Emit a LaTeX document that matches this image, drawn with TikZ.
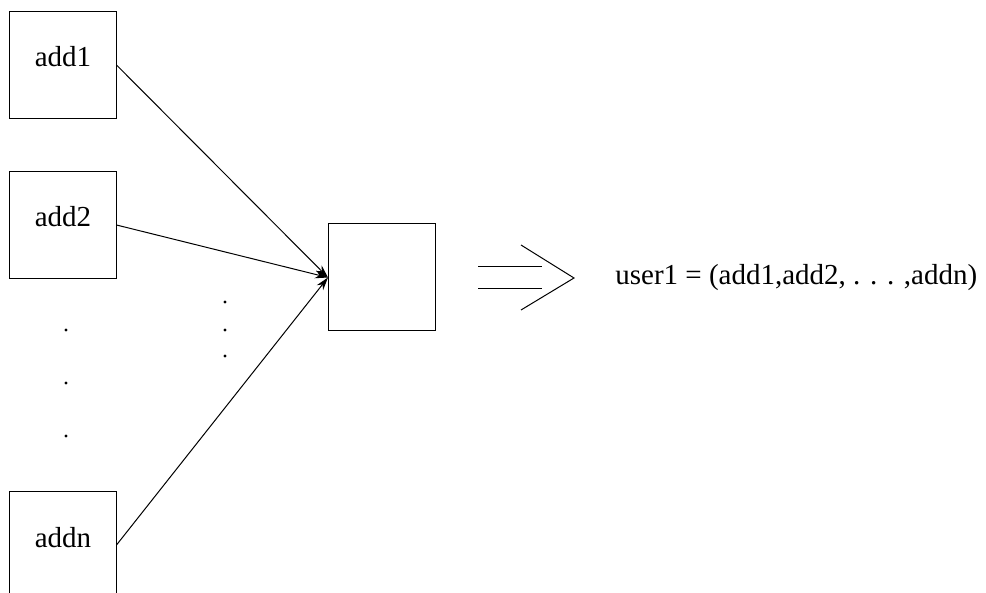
\documentclass[tikz,border=0pt]{standalone}
\usepackage{fontspec}
\setmainfont{Liberation Serif}
\usetikzlibrary{positioning,arrows.meta}
\tikzstyle{addbox}=[rectangle, draw=black, line width=0.5pt, minimum width=53.5pt,
        minimum height=53.5pt, outer sep=0pt, text height=10pt, text depth=8pt,
        font=\fontsize{14.5}{17}\selectfont]
\tikzstyle{myarrow}=[-{Stealth[length=6.5pt,width=4pt]}, line width=0.5pt]
\tikzstyle{line}=[-, line width=0.5pt]

\begin{document}
\begin{tikzpicture}[x=0.5pt, y=-0.5pt, node distance=26.5pt]
    \useasboundingbox (0,0) rectangle (986,593);

    \node (add1) [addbox] at (63,65) {add1};
    \node (add2) [addbox, below=of add1] {add2};
    \node (addn) [addbox, below=106.5pt of add2] {addn};
    \node (hub) [addbox] at (381.5,277.5) {};

    \draw[myarrow] (add1.east) -- (hub.west);
    \draw[myarrow] (add2.east) -- (hub.west);
    \draw[myarrow] (addn.east) -- (hub.west);

    % dots between the boxes
    \foreach \y in {330,383,436} \fill (66,\y) circle[radius=0.8pt];
    \foreach \y in {302,330,356} \fill (225,\y) circle[radius=0.8pt];

    % implies sign
    \draw[line] (478,267) -- (542,267);
    \draw[line] (478,289) -- (542,289);
    \draw[line] (521,245) -- (574,278) -- (521,310);

    \node (user1) [anchor=west, inner sep=0pt, font=\fontsize{14.5}{17}\selectfont]
        at (615,278) {user1 = (add1,add2, . . . ,addn)};
\end{tikzpicture}
\end{document}
